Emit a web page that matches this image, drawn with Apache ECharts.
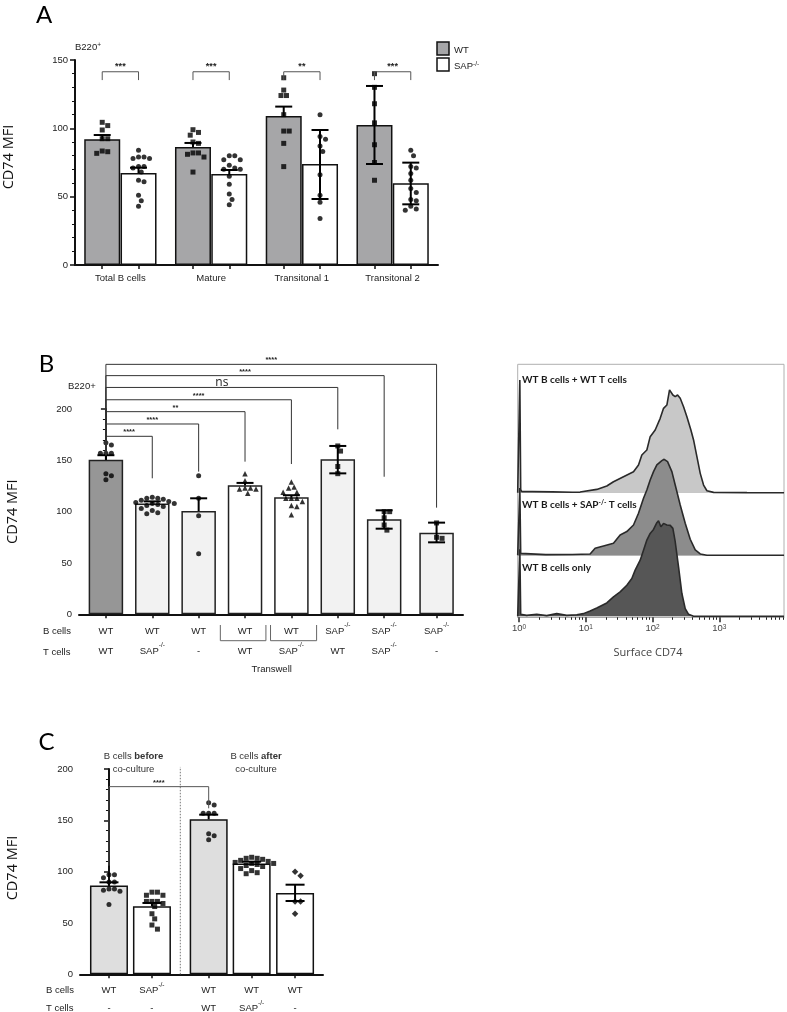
<!DOCTYPE html>
<html><head><meta charset="utf-8">
<script src="https://cdn.jsdelivr.net/npm/echarts@6/dist/echarts.min.js"></script>
<style>html,body{margin:0;padding:0;background:#fff}#c{width:787px;height:1012px}</style>
</head><body><div id="c"></div>
<script>
// ================= DATA =================
// ---- Panel A ----
const aGroups = ['Total B cells', 'Mature', 'Transitonal 1', 'Transitonal 2'];
const aWTMean = [92.0, 86.3, 109.0, 102.4];
const aWTLow  = [92.0, 86.3, 109.0, 73.9];
const aWTHigh = [95.1, 89.3, 115.9, 131.0];
const aSAPMean = [67.3, 66.6, 73.9, 59.8];
const aSAPLow  = [67.3, 66.6, 48.3, 44.4];
const aSAPHigh = [71.2, 69.5, 98.8, 74.9];
const aWTPoints = [
  [104.4, 102, 98.8, 92.4, 92.4, 83.4, 81.7, 82.9],
  [97, 99, 95, 90, 89, 82, 82, 79, 81, 68],
  [137, 128, 124, 124, 110, 98, 98, 89, 72],
  [140, 130, 118, 104, 88, 75, 62]
];
const aSAPPoints = [
  [84, 79, 78, 78, 79, 72, 72, 71, 68, 62, 61, 51, 47, 43],
  [80, 77, 77, 80, 70, 71, 70, 65, 59, 52, 48, 44, 73],
  [110, 94, 92, 87, 83, 66, 51, 46, 34],
  [84, 80, 72, 71, 67, 62, 56, 53, 48, 47, 43, 41, 40]
];
const aSignif = ['***', '***', '**', '***'];
const aBracketTop = [141.4, 141.4, 141.4, 141.4];
const aBracketDrop = [135.3, 135.3, 135.3, 135.3];
const aYTicks = [0, 50, 100, 150];

// ---- Panel B ----
const bBCells = ['WT', 'WT', 'WT', 'WT', 'WT', 'SAP-/-', 'SAP-/-', 'SAP-/-'];
const bTCells = ['WT', 'SAP-/-', '-', 'WT', 'SAP-/-', 'WT', 'SAP-/-', '-'];
const bTranswell = [false, false, false, true, true, false, false, false];
const bMean = [150.6, 108.0, 100.6, 125.6, 114.0, 151.0, 92.5, 79.5];
const bLow  = [150.6, 108.0, 100.6, 125.6, 114.0, 137.3, 83.4, 70.1];
const bHigh = [155.0, 110.0, 113.0, 128.0, 116.0, 164.0, 101.3, 89.3];
const bPoints = [
  [165, 167, 157, 157, 157, 137, 131, 135],
  [114, 113, 113, 112, 111, 110, 109, 108, 108, 107, 106, 105, 103, 101, 99, 98],
  [135, 113, 96, 59],
  [137, 130, 123, 122, 122, 123, 118],
  [129, 124, 123, 119, 119, 113, 113, 113, 110, 106, 105, 97],
  [164, 159, 144, 137],
  [100, 100, 94, 82, 87],
  [89, 75, 74]
];
const bSymbols = ['circle', 'circle', 'circle', 'triangle', 'triangle', 'rect', 'rect', 'rect'];
const bCompTarget = [1, 2, 3, 4, 5, 6, 7];
const bCompLabel = ['****', '****', '**', '****', 'ns', '****', '****'];
const bCompTop = [173.4, 185.4, 197.4, 209.0, 221.0, 232.5, 243.5];
const bCompDrop = [132.5, 139.0, 148.7, 146.4, 180.2, 134.0, 103.9];
const bCompRefDrop = 155;

// ---- Panel C ----
const cBCells = ['WT', 'SAP-/-', 'WT', 'WT', 'WT'];
const cTCells = ['-', '-', 'WT', 'SAP-/-', '-'];
const cMean = [86.4, 66.2, 151.0, 108.0, 79.2];
const cLow  = [86.4, 66.2, 151.0, 108.0, 71.4];
const cHigh = [89.6, 69.5, 155.5, 109.7, 87.3];
const cPoints = [
  [97, 97, 94, 90, 90, 83, 82, 81, 83, 68],
  [80, 77, 77, 80, 71, 71, 69, 71, 66, 59, 54, 48, 44],
  [165, 167, 157, 157, 157, 137, 131, 135],
  [114, 113, 113, 112, 111, 110, 109, 108, 108, 107, 106, 105, 103, 101, 99, 98],
  [96, 100, 71, 71, 59]
];
const cSymbols = ['circle', 'rect', 'circle', 'rect', 'diamond'];
const cComp = {from: 0, to: 2, label: '****', top: 182.8, dropFrom: 105.8, dropTo: 161.7};

// ---- Histograms (x = log10 Surface CD74, y = % of mode) ----
const hTopX = [-0.02, 0.0, 0.012, 0.025, 0.04, 0.2, 0.5, 0.8, 0.915, 1.165, 1.315, 1.415, 1.565, 1.715, 1.79, 1.84, 1.915, 1.965, 2.04, 2.115, 2.165, 2.215, 2.255, 2.275, 2.305, 2.34, 2.375, 2.415, 2.465, 2.515, 2.575, 2.615, 2.665, 2.715, 2.765, 2.815, 2.915, 3.415, 3.97];
const hTopY = [0, 0, 109, 3, 1, 1, 0.8, 0.5, 0.6, 3.2, 6.5, 10.6, 15.5, 20.3, 26.8, 36.5, 41.3, 54.2, 60.6, 71.9, 81.6, 84.8, 99.4, 100, 94.5, 92.9, 94.5, 91.3, 83.2, 73.5, 60.6, 51, 34.8, 18.7, 7.4, 1.9, 0.3, 0.1, 0];
const hMidX = [-0.02, 0.0, 0.012, 0.025, 0.04, 0.4, 0.8, 1.065, 1.14, 1.265, 1.415, 1.515, 1.615, 1.715, 1.79, 1.865, 1.915, 1.965, 2.015, 2.065, 2.14, 2.175, 2.225, 2.29, 2.34, 2.415, 2.49, 2.565, 2.64, 2.715, 2.815, 3.97];
const hMidY = [0, 0, 70, 2, 1, 0.7, 0.8, 1.4, 7.3, 9.7, 12.5, 21.2, 24.7, 31.6, 43.8, 59.4, 68.1, 78.5, 87.2, 94.1, 98.6, 100, 97.6, 87.2, 73.3, 52.4, 33.3, 16.7, 5.6, 1.4, 0, 0];
const hBotX = [-0.02, 0.0, 0.012, 0.025, 0.04, 0.115, 0.265, 0.415, 0.565, 0.715, 0.865, 0.965, 1.065, 1.165, 1.315, 1.415, 1.515, 1.615, 1.69, 1.74, 1.815, 1.865, 1.915, 1.965, 2.015, 2.065, 2.09, 2.125, 2.165, 2.215, 2.265, 2.305, 2.34, 2.39, 2.44, 2.49, 2.54, 2.615, 3.97];
const hBotY = [0, 0, 70, 2, 1, 1, 2.1, 0.7, 2.8, 1, 1.7, 2.8, 5.6, 8.7, 14, 20.3, 25.5, 32.5, 39.5, 48.3, 58.7, 69.2, 79.7, 86.7, 90.9, 97.9, 100, 93.7, 97.2, 95.5, 95.1, 92, 78, 51.7, 23.8, 8, 2.1, 0, 0];
const hLabels = ['WT B cells + WT T cells', 'WT B cells + SAP-/- T cells', 'WT B cells only'];
const hDecades = [0, 1, 2, 3];

// ================= LAYOUT =================
const FONT = 'Liberation Sans';
const INK = '#111';
const G = {
  A: {left: 75, top: 60, width: 363, height: 205},
  B: {left: 79, top: 409, width: 384, height: 205.3},
  C: {left: 80, top: 769, width: 243, height: 205.3},
  H: {left: 517.7, top: 364.3, width: 266.3, height: 253},
  H1: {left: 517.7, top: 389.3, width: 266.3, height: 103.4},
  H2: {left: 517.7, top: 459.3, width: 266.3, height: 96},
  H3: {left: 517.7, top: 520.7, width: 266.3, height: 95.6}
};
const aX = {min: 0, max: 4};
const aWTX = aGroups.map((_, i) => i + 0.3);
const aSAPX = aGroups.map((_, i) => i + 0.7);
const bX = {min: -0.58, max: 7.7};
const bPos = bMean.map((_, i) => i < 7 ? i : i + 0.13);
const cX = {min: -0.674, max: 4.98};
const cPos = [0, 1, 2.32, 3.32, 4.33];
const hX = {min: -0.02, max: 3.97};

const kA = {x: G.A.width / (aX.max - aX.min), y: G.A.height / 150};
const kB = {x: G.B.width / (bX.max - bX.min), y: G.B.height / 200};
const kC = {x: G.C.width / (cX.max - cX.min), y: G.C.height / 200};

function swarm(vals, cx, k, d) {
  const placed = [], out = [];
  const order = vals.map((v, i) => i).sort((a, b) => vals[b] - vals[a]);
  for (const i of order) {
    const py = vals[i] * k.y;
    let off = 0;
    for (let s = 0; s < 60; s++) {
      const cand = s === 0 ? 0 : (s % 2 ? 1 : -1) * Math.ceil(s / 2) * d * 0.5;
      if (placed.every(p => Math.hypot(p[0] - cand, p[1] - py) >= d)) { off = cand; break; }
    }
    placed.push([off, py]);
    out.push([cx + off / k.x, vals[i]]);
  }
  return out;
}
const sup = s => s.replace('-/-', '{sup|-/-}');
const supRich = (fs, c) => ({sup: {fontSize: fs, fontFamily: FONT, color: c || '#222', verticalAlign: 'top', lineHeight: 11}});

function errRender(capHalf) {
  return function (params, api) {
    const x = api.value(0), lo = api.value(1), hi = api.value(2), m = api.value(3);
    const a = api.coord([x, lo]), b = api.coord([x, hi]);
    const st = {stroke: '#000', lineWidth: 2};
    const ch = [{type: 'line', shape: {x1: a[0], y1: a[1], x2: b[0], y2: b[1]}, style: st}];
    if (hi > m + 0.01) ch.push({type: 'line', shape: {x1: b[0] - capHalf, y1: b[1], x2: b[0] + capHalf, y2: b[1]}, style: st});
    if (lo < m - 0.01) ch.push({type: 'line', shape: {x1: a[0] - capHalf, y1: a[1], x2: a[0] + capHalf, y2: a[1]}, style: st});
    return {type: 'group', children: ch};
  };
}
function bracketRender(labels, color, fs, gap) {
  return function (params, api) {
    const x1 = api.value(0), x2 = api.value(1), y = api.value(2), d1 = api.value(3), d2 = api.value(4);
    const p1 = api.coord([x1, d1]), p2 = api.coord([x1, y]), p3 = api.coord([x2, y]), p4 = api.coord([x2, d2]);
    const lab = labels[params.dataIndex];
    const ns = lab === 'ns';
    return {type: 'group', children: [
      {type: 'polyline', shape: {points: [p1, p2, p3, p4]}, style: {stroke: color, lineWidth: 1, fill: 'none'}},
      {type: 'text', x: (p2[0] + p3[0]) / 2, y: p2[1] - (ns ? -1 : gap), style: {text: lab, fontSize: ns ? 12 : fs, fontFamily: ns ? 'Open Sans' : FONT, fontWeight: ns ? 'normal' : 'bold', fill: '#222', align: 'center', verticalAlign: 'bottom'}}
    ]};
  };
}

// ================= AXES =================
const axisLine = {show: true, lineStyle: {color: INK, width: 2}};
const tickLab = {fontSize: 9.5, color: '#222', fontFamily: FONT};
function yAxisCfg(gi, max) {
  return {type: 'value', gridIndex: gi, min: 0, max: max, interval: 50,
    axisLine: axisLine, axisTick: {show: true, length: 5, lineStyle: {color: INK, width: 1.5}},
    minorTick: {show: true, splitNumber: 5, length: 3, lineStyle: {color: INK, width: 1}},
    splitLine: {show: false}, axisLabel: Object.assign({margin: 7}, tickLab)};
}
function rowLabel(pos, r1, r2) {
  return v => { const i = pos.findIndex(p => Math.abs(p - v) < 1e-6); return i < 0 ? '' : sup(r1[i]) + '\n' + sup(r2[i]); };
}
const hMinor = [];
hDecades.forEach(d => { for (let k = 2; k <= 9; k++) { const v = d + Math.log10(k); if (v < hX.max) hMinor.push(v); } });

const xAxes = [
  {type: 'value', gridIndex: 0, min: aX.min, max: aX.max, axisLine: axisLine, splitLine: {show: false},
    axisTick: {show: true, customValues: aWTX.concat(aSAPX), length: 4, lineStyle: {color: INK, width: 1.5}},
    axisLabel: Object.assign({customValues: aGroups.map((_, i) => i + 0.5), formatter: v => aGroups[Math.round(v - 0.5)], margin: 8}, tickLab)},
  {type: 'value', gridIndex: 1, min: bX.min, max: bX.max, axisLine: axisLine, splitLine: {show: false},
    axisTick: {show: true, customValues: bPos, length: 4, lineStyle: {color: INK, width: 1.5}},
    axisLabel: Object.assign({customValues: bPos, formatter: rowLabel(bPos, bBCells, bTCells), margin: 7, lineHeight: 20, rich: supRich(6.5)}, tickLab)},
  {type: 'value', gridIndex: 2, min: cX.min, max: cX.max, axisLine: axisLine, splitLine: {show: false},
    axisTick: {show: true, customValues: cPos, length: 4, lineStyle: {color: INK, width: 1.5}},
    axisLabel: Object.assign({customValues: cPos, formatter: rowLabel(cPos, cBCells, cTCells), margin: 7, lineHeight: 18, rich: supRich(6.5)}, tickLab)},
  {type: 'value', gridIndex: 3, position: 'bottom', min: hX.min, max: hX.max, splitLine: {show: false},
    axisLine: {show: true, lineStyle: {color: '#aaa', width: 1}},
    axisTick: {show: true, customValues: hDecades, length: 5, lineStyle: {color: '#222', width: 1.5}},
    axisLabel: {customValues: hDecades, formatter: v => '10{sup|' + Math.round(v) + '}', fontSize: 9.5, color: '#444', fontFamily: FONT, margin: 6, rich: supRich(6.5, '#444')}},
  {type: 'value', gridIndex: 3, position: 'bottom', min: hX.min, max: hX.max, splitLine: {show: false}, axisLine: {show: false},
    axisTick: {show: true, customValues: hMinor, length: 2.5, lineStyle: {color: '#222', width: 1}},
    axisLabel: {show: false}},
  {type: 'value', gridIndex: 4, min: hX.min, max: hX.max, splitLine: {show: false}, axisTick: {show: false}, axisLabel: {show: false},
    axisLine: {show: true, lineStyle: {color: '#c4c4c4', width: 1}}},
  {type: 'value', gridIndex: 5, min: hX.min, max: hX.max, splitLine: {show: false}, axisTick: {show: false}, axisLabel: {show: false},
    axisLine: {show: true, lineStyle: {color: '#c4c4c4', width: 1}}},
  {type: 'value', gridIndex: 6, min: hX.min, max: hX.max, show: false}
];
const yAxes = [
  yAxisCfg(0, 150), yAxisCfg(1, 200), yAxisCfg(2, 200),
  {type: 'value', gridIndex: 3, min: 0, max: 1, show: false},
  {type: 'value', gridIndex: 4, min: 0, max: 100, show: false},
  {type: 'value', gridIndex: 5, min: 0, max: 100, show: false},
  {type: 'value', gridIndex: 6, min: 0, max: 100, show: false}
];

// ================= SERIES =================
const series = [];
const barStyle = {borderColor: INK, borderWidth: 1.5};
const D = 5.5;
// Panel A
series.push({type: 'bar', xAxisIndex: 0, yAxisIndex: 0, barWidth: 36, z: 2, itemStyle: barStyle, silent: true,
  data: aGroups.flatMap((_, i) => [
    {value: [aWTX[i], aWTMean[i]], itemStyle: {color: '#a6a6a8'}},
    {value: [aSAPX[i], aSAPMean[i]], itemStyle: {color: '#ffffff'}}])});
series.push({type: 'scatter', xAxisIndex: 0, yAxisIndex: 0, symbol: 'rect', symbolSize: 5, z: 4, itemStyle: {color: '#000'},
  data: aWTPoints.flatMap((pts, i) => swarm(pts, aWTX[i], kA, D))});
series.push({type: 'scatter', xAxisIndex: 0, yAxisIndex: 0, symbol: 'circle', symbolSize: 5, z: 4, itemStyle: {color: '#000'},
  data: aSAPPoints.flatMap((pts, i) => swarm(pts, aSAPX[i], kA, D))});
series.push({type: 'custom', xAxisIndex: 0, yAxisIndex: 0, z: 5, renderItem: errRender(8.5),
  data: aGroups.flatMap((_, i) => [[aWTX[i], aWTLow[i], aWTHigh[i], aWTMean[i]], [aSAPX[i], aSAPLow[i], aSAPHigh[i], aSAPMean[i]]])});
series.push({type: 'custom', xAxisIndex: 0, yAxisIndex: 0, z: 5, renderItem: bracketRender(aSignif, '#555', 9, 1),
  data: aGroups.map((_, i) => [aWTX[i], aSAPX[i], aBracketTop[i], aBracketDrop[i], aBracketDrop[i]])});

// Panel B
const bColors = ['#969696', '#f2f2f2', '#f2f2f2', '#ffffff', '#ffffff', '#f2f2f2', '#f2f2f2', '#f2f2f2'];
series.push({type: 'bar', xAxisIndex: 1, yAxisIndex: 1, barWidth: 34.5, z: 2, itemStyle: {borderColor: '#222', borderWidth: 1.5}, silent: true,
  data: bMean.map((m, i) => ({value: [bPos[i], m], itemStyle: {color: bColors[i]}}))});
['circle', 'triangle', 'rect'].forEach(sym => {
  series.push({type: 'scatter', xAxisIndex: 1, yAxisIndex: 1, symbol: sym, symbolSize: sym === 'triangle' ? 5.5 : 5, z: 4, itemStyle: {color: '#000'},
    data: bPoints.flatMap((pts, i) => bSymbols[i] === sym ? swarm(pts, bPos[i], kB, D) : [])});
});
series.push({type: 'custom', xAxisIndex: 1, yAxisIndex: 1, z: 5, renderItem: errRender(8.5),
  data: bMean.map((m, i) => [bPos[i], bLow[i], bHigh[i], m])});
series.push({type: 'custom', xAxisIndex: 1, yAxisIndex: 1, z: 5, renderItem: bracketRender(bCompLabel, '#333', 7.5, 0),
  data: bCompTarget.map((t, j) => [bPos[0], bPos[t], bCompTop[j], bCompRefDrop, bCompDrop[j]])});
const twData = [];
bTranswell.forEach((tw, i) => {
  if (!tw) return;
  const prevTw = bTranswell[i - 1], nextTw = bTranswell[i + 1];
  const l = (bPos[i - 1] + bPos[i]) / 2 + (prevTw ? 2.3 : -1.5) / kB.x;
  const r = (bPos[i] + bPos[i + 1]) / 2 + (nextTw ? -2.3 : 2) / kB.x;
  twData.push([l, r]);
});
series.push({type: 'custom', xAxisIndex: 1, yAxisIndex: 1, z: 5, data: twData,
  renderItem: (params, api) => {
    const a = api.coord([api.value(0), 0]), b = api.coord([api.value(1), 0]);
    const t = a[1] + 10.7, bt = a[1] + 26.4;
    return {type: 'polyline', shape: {points: [[a[0], t], [a[0], bt], [b[0], bt], [b[0], t]]}, style: {stroke: '#666', lineWidth: 1, fill: 'none'}};
  }});

// Panel C
const cColors = ['#dedede', '#ffffff', '#dedede', '#ffffff', '#ffffff'];
series.push({type: 'bar', xAxisIndex: 2, yAxisIndex: 2, barWidth: 38, z: 2, itemStyle: barStyle, silent: true,
  data: cMean.map((m, i) => ({value: [cPos[i], m], itemStyle: {color: cColors[i]}}))});
['circle', 'rect', 'diamond'].forEach(sym => {
  series.push({type: 'scatter', xAxisIndex: 2, yAxisIndex: 2, symbol: sym, symbolSize: sym === 'diamond' ? 6.5 : 5, z: 4, itemStyle: {color: '#000'},
    data: cPoints.flatMap((pts, i) => cSymbols[i] === sym ? swarm(pts, cPos[i], kC, D) : [])});
});
series.push({type: 'custom', xAxisIndex: 2, yAxisIndex: 2, z: 5, renderItem: errRender(9.5),
  data: cMean.map((m, i) => [cPos[i], cLow[i], cHigh[i], m])});
series.push({type: 'custom', xAxisIndex: 2, yAxisIndex: 2, z: 5, renderItem: bracketRender([cComp.label], '#555', 7.5, 0),
  data: [[cPos[cComp.from], cPos[cComp.to], cComp.top, cComp.dropFrom, cComp.dropTo]]});
series.push({type: 'custom', xAxisIndex: 2, yAxisIndex: 2, z: 1, data: [[(cPos[1] + cPos[2]) / 2, 0, 202]],
  renderItem: (params, api) => {
    const a = api.coord([api.value(0), api.value(1)]), b = api.coord([api.value(0), api.value(2)]);
    return {type: 'line', shape: {x1: a[0], y1: a[1], x2: b[0], y2: b[1]}, style: {stroke: '#777', lineWidth: 1, lineDash: [1.5, 1.5]}};
  }});

// Histograms
[[hTopX, hTopY, '#c8c8c8', 5, 4], [hMidX, hMidY, '#8c8c8c', 6, 5], [hBotX, hBotY, '#565656', 7, 6]].forEach(([xs, ys, col, xi, yi], n) => {
  series.push({type: 'line', xAxisIndex: xi, yAxisIndex: yi, symbol: 'none', clip: false, silent: true, z: 2 + n,
    data: xs.map((x, i) => [x, ys[i]]),
    lineStyle: {color: '#2a2a2a', width: 1.6}, areaStyle: {color: col, opacity: 1}});
});

// ================= TEXT =================
const txt = (x, y, text, o) => Object.assign({type: 'text', x: x, y: y, z: 100,
  style: Object.assign({text: text, fontSize: 9.5, fontFamily: FONT, fill: '#222', align: 'left', verticalAlign: 'middle',
    textAlign: 'left', textVerticalAlign: 'middle'}, (o && o.style) || {})}, o && o.rot ? {rotation: o.rot} : {});
const ctr = {align: 'center', textAlign: 'center'};
const big = Object.assign({fontSize: 24, fontFamily: 'Lato', fill: '#000'}, ctr);
const yName = Object.assign({fontSize: 14.5, fontFamily: 'Open Sans', fill: '#111'}, ctr);
const graphic = [
  txt(44, 15, 'A', {style: big}),
  txt(46.5, 364, 'B', {style: big}),
  txt(46.5, 742.5, 'C', {style: big}),
  txt(9, 157, 'CD74 MFI', {rot: Math.PI / 2, style: yName}),
  txt(12.5, 511.7, 'CD74 MFI', {rot: Math.PI / 2, style: yName}),
  txt(12.5, 868, 'CD74 MFI', {rot: Math.PI / 2, style: yName}),
  txt(75, 47, 'B220{sup|+}', {style: {rich: supRich(6.5)}}),
  txt(68, 386, 'B220+'),
  {type: 'rect', shape: {x: 437, y: 42, width: 12, height: 13}, style: {fill: '#a6a6a8', stroke: INK, lineWidth: 1.5}, z: 100},
  {type: 'rect', shape: {x: 437, y: 58, width: 12, height: 13}, style: {fill: '#fff', stroke: INK, lineWidth: 1.5}, z: 100},
  txt(454, 50, 'WT'),
  txt(454, 66, 'SAP{sup|-/-}', {style: {rich: supRich(6.5)}}),
  txt(43, 631.7, 'B cells'), txt(43, 652, 'T cells'),
  txt(271.7, 669, 'Transwell', {style: ctr}),
  txt(46, 990, 'B cells'), txt(46, 1008, 'T cells'),
  txt(133.5, 756.5, 'B cells {b|before}', {style: Object.assign({fill: '#333', rich: {b: {fontWeight: 'bold', fontSize: 9.5, fontFamily: FONT, color: '#222'}}}, ctr)}),
  txt(133.5, 769.5, 'co-culture', {style: Object.assign({fill: '#333'}, ctr)}),
  txt(256, 756.5, 'B cells {b|after}', {style: Object.assign({fill: '#333', rich: {b: {fontWeight: 'bold', fontSize: 9.5, fontFamily: FONT, color: '#222'}}}, ctr)}),
  txt(256, 769.5, 'co-culture', {style: Object.assign({fill: '#333'}, ctr)}),
  txt(522, 380, sup(hLabels[0]), {style: {fontSize: 10, fontWeight: 'bold', fontFamily: 'Lato', fill: '#1a1a1a'}}),
  txt(522, 505, sup(hLabels[1]), {style: {fontSize: 10, fontWeight: 'bold', fontFamily: 'Lato', fill: '#1a1a1a', rich: {sup: {fontSize: 6.5, fontWeight: 'bold', fontFamily: 'Lato', verticalAlign: 'top', lineHeight: 11}}}}),
  txt(522, 567.7, sup(hLabels[2]), {style: {fontSize: 10, fontWeight: 'bold', fontFamily: 'Lato', fill: '#1a1a1a'}}),
  txt(648, 652.7, 'Surface CD74', {style: Object.assign({fontSize: 11, fontFamily: 'Open Sans', fill: '#444'}, ctr)})
];

const noBounds = {outerBoundsMode: 'none', containLabel: false};
const chart = echarts.init(document.getElementById('c'), null, {renderer: 'canvas', width: 787, height: 1012});
chart.setOption({
  animation: false,
  backgroundColor: '#fff',
  grid: [
    Object.assign({}, noBounds, G.A), Object.assign({}, noBounds, G.B), Object.assign({}, noBounds, G.C),
    Object.assign({show: true, borderColor: '#b0b0b0', borderWidth: 1, backgroundColor: 'transparent'}, noBounds, G.H),
    Object.assign({}, noBounds, G.H1), Object.assign({}, noBounds, G.H2), Object.assign({}, noBounds, G.H3)
  ],
  xAxis: xAxes,
  yAxis: yAxes,
  series: series,
  graphic: graphic
});
</script>
</body></html>
